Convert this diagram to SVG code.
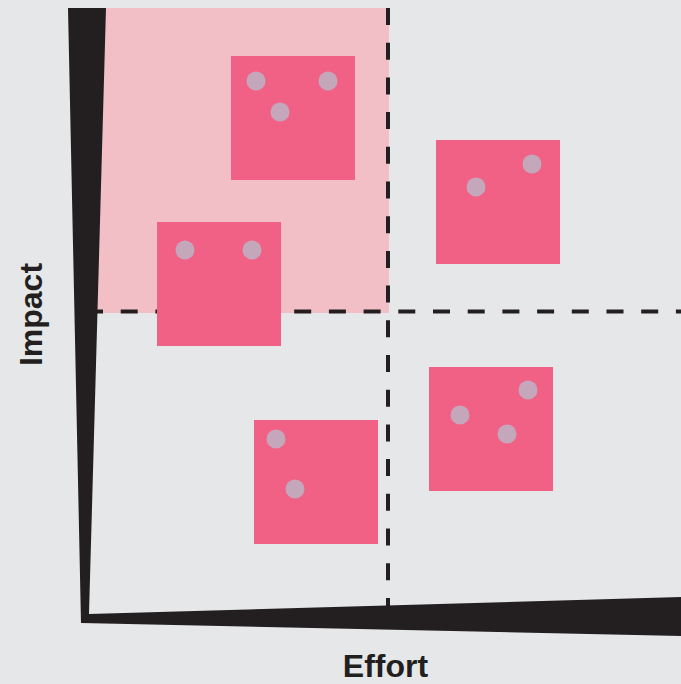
<svg xmlns="http://www.w3.org/2000/svg" width="681" height="684" viewBox="0 0 681 684">
<style>
.note{fill:#f06185}
.dot{fill:#c4a7bb}
.axis{fill:#231f20}
.dash{stroke:#231f20;stroke-width:4;stroke-dasharray:17 17.7;fill:none}
.lbl{font-family:"Liberation Sans",Arial,sans-serif;font-weight:bold;font-size:32px;fill:#231f20}
</style>
<rect width="681" height="684" fill="#e6e7e8"/>
<rect id="quadrant" x="80" y="8" width="309" height="305" fill="#f2bfc7"/>
<g id="connectors">
<line class="dash" x1="388" y1="8" x2="388" y2="615"/>
<line class="dash" x1="86" y1="311.5" x2="681" y2="311.5"/>
</g>
<g id="note1"><rect class="note" x="231" y="56" width="124" height="124"/><circle class="dot" cx="256" cy="81" r="9.5"/><circle class="dot" cx="328" cy="81" r="9.5"/><circle class="dot" cx="280" cy="112" r="9.5"/></g>
<g id="note2"><rect class="note" x="436" y="140" width="124" height="124"/><circle class="dot" cx="476" cy="187" r="9.5"/><circle class="dot" cx="532" cy="164" r="9.5"/></g>
<g id="note3"><rect class="note" x="157" y="222" width="124" height="124"/><circle class="dot" cx="185" cy="250" r="9.5"/><circle class="dot" cx="252" cy="250" r="9.5"/></g>
<g id="note4"><rect class="note" x="429" y="367" width="124" height="124"/><circle class="dot" cx="460" cy="415" r="9.5"/><circle class="dot" cx="528" cy="390" r="9.5"/><circle class="dot" cx="507" cy="434" r="9.5"/></g>
<g id="note5"><rect class="note" x="254" y="420" width="124" height="124"/><circle class="dot" cx="276" cy="439" r="9.5"/><circle class="dot" cx="295" cy="489" r="9.5"/></g>
<g id="axes">
<polygon class="axis" points="68,8 106,8 89,614 681,597 681,636 81,623"/>
</g>
<text class="lbl" text-anchor="middle" x="385.5" y="677">Effort</text>
<text class="lbl" text-anchor="middle" transform="translate(42,314.5) rotate(-90)">Impact</text>
</svg>
